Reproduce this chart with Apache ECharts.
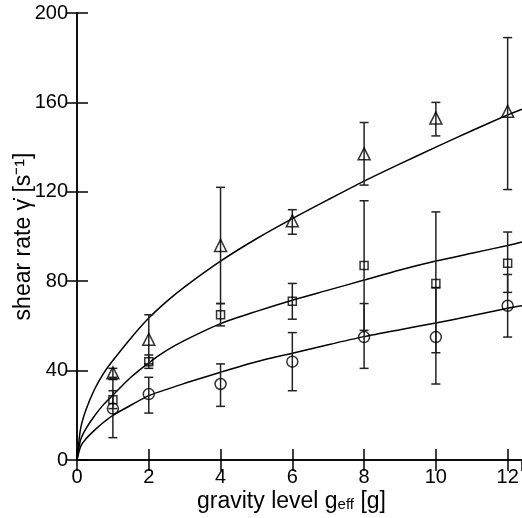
<!DOCTYPE html>
<html><head><meta charset="utf-8">
<script src="https://cdn.jsdelivr.net/npm/echarts@6/dist/echarts.min.js"></script>
<style>html,body{margin:0;padding:0;background:#fff}#c{width:522px;height:518px}</style>
</head><body><div id="c"></div>
<script>
// measured points
const xs = [1, 2, 4, 6, 8, 10, 12];
const triVals = [39, 54, 96, 107, 137, 153, 156];
const triLo   = [37, 43, 70, 101, 123, 145, 121];
const triHi   = [41, 65, 122, 112, 151, 160, 189];
const sqVals  = [27, 44, 65, 71, 87, 79, 88];
const sqLo    = [23, 41, 60, 63, 58, 48, 75];
const sqHi    = [31, 47, 70, 79, 116, 111, 102];
const circVals = [23, 29.5, 34, 44, 55, 55, 69];
const circLo   = [10, 21, 24, 31, 41, 34, 55];
const circHi   = [36, 37, 43, 57, 70, 77, 83];
// fitted curves
const curveX   = [0, 0.1, 0.25, 0.5, 0.75, 1, 1.5, 2, 2.5, 3, 4, 5, 6, 7, 8, 9, 10, 11, 12, 12.4];
const triCurve = [0, 14, 22.5, 32, 39, 44.5, 54.5, 63.5, 71, 77.5, 89, 99, 108, 116.5, 124.8, 132.5, 140, 147.3, 154.4, 157];
const sqCurve  = [0, 9, 14, 20, 25, 29, 37, 43.5, 49, 53.5, 61, 66.5, 71.5, 76, 80.5, 85, 89, 92.5, 96, 97.5];
const circCurve= [0, 6, 9.5, 13.5, 17, 20, 24.5, 28.8, 31.6, 34.3, 39.3, 44, 47.8, 51.6, 55.2, 58.3, 61.3, 64.5, 67.9, 69];
const xTicks = [0, 2, 4, 6, 8, 10, 12];
const yTicks = [0, 40, 80, 120, 160, 200];

const FONT = "'Liberation Sans', Arial, sans-serif";
const zip = (a, b) => a.map((v, i) => [v, b[i]]);
const errData = (lo, hi) => xs.map((x, i) => [x, lo[i], hi[i]]);

function errRender(params, api) {
  const x = api.value(0);
  const p1 = api.coord([x, api.value(1)]);
  const p2 = api.coord([x, api.value(2)]);
  const w = 4.5;
  const st = { stroke: '#222', lineWidth: 1.5 };
  return { type: 'group', children: [
    { type: 'line', shape: { x1: p1[0], y1: p1[1], x2: p2[0], y2: p2[1] }, style: st },
    { type: 'line', shape: { x1: p1[0]-w, y1: p1[1], x2: p1[0]+w, y2: p1[1] }, style: st },
    { type: 'line', shape: { x1: p2[0]-w, y1: p2[1], x2: p2[0]+w, y2: p2[1] }, style: st }
  ]};
}

const markerSeries = (vals, sym, size) => ({
  type: 'scatter', data: zip(xs, vals), symbol: sym, symbolSize: size,
  itemStyle: { color: 'rgba(0,0,0,0)', borderColor: '#000', borderWidth: 1.5 },
  z: 5, silent: true
});
const curveSeries = (ys) => ({
  type: 'line', data: zip(curveX, ys), showSymbol: false, smooth: 0.25,
  lineStyle: { color: '#000', width: 1.5 }, z: 3, silent: true
});
const errSeries = (lo, hi) => ({
  type: 'custom', data: errData(lo, hi), renderItem: errRender, z: 4, silent: true,
  encode: { x: 0, y: [1, 2] }
});

const axisLine = { show: true, lineStyle: { color: '#000', width: 1.5 } };
const tick = { show: true, inside: true, length: 11, lineStyle: { color: '#000', width: 1.5 } };

const chart = echarts.init(document.getElementById('c'), null, { renderer: 'canvas' });
chart.setOption({
  animation: false,
  backgroundColor: '#fff',
  grid: { left: 77, top: 13, right: -1, bottom: 58, containLabel: false },
  xAxis: [{
    type: 'value', min: 0, max: 12.4, interval: 2, position: 'bottom',
    axisLine, axisTick: tick, splitLine: { show: false },
    axisLabel: { color: '#000', fontFamily: FONT, fontSize: 20, margin: 7,
      formatter: v => xTicks.includes(v) ? String(v) : '', showMaxLabel: false },
    name: '{m|gravity level g}{s|eff}{m| [g]}', nameLocation: 'middle', nameGap: 30,
    nameMoveOverlap: false,
    nameTextStyle: { padding: [0, 16, 0, 0], rich: {
      m: { fontFamily: FONT, fontSize: 23, color: '#000' },
      s: { fontFamily: FONT, fontSize: 15, color: '#000', padding: [6, 0, 0, 0] } } }
  }, {
    type: 'value', min: 0, max: 12.4, interval: 2, position: 'top',
    axisLine, axisTick: tick, axisLabel: { show: false }, splitLine: { show: false }
  }],
  yAxis: [{
    type: 'value', min: 0, max: 200, interval: 40, position: 'left',
    axisLine, axisTick: tick, splitLine: { show: false },
    axisLabel: { color: '#000', fontFamily: FONT, fontSize: 20, margin: 9,
      formatter: v => yTicks.includes(v) ? String(v) : '' },
    name: 'shear rate γ̇ [s⁻¹]', nameLocation: 'middle', nameGap: 42, nameRotate: 90,
    nameMoveOverlap: false,
    nameTextStyle: { fontFamily: FONT, fontSize: 23, color: '#000' }
  }, {
    type: 'value', min: 0, max: 200, interval: 40, position: 'right',
    axisLine, axisTick: tick, axisLabel: { show: false }, splitLine: { show: false }
  }],
  series: [
    curveSeries(triCurve), curveSeries(sqCurve), curveSeries(circCurve),
    errSeries(triLo, triHi), errSeries(sqLo, sqHi), errSeries(circLo, circHi),
    markerSeries(triVals, 'triangle', 12), markerSeries(sqVals, 'rect', 8), markerSeries(circVals, 'circle', 11)
  ]
});
</script></body></html>
